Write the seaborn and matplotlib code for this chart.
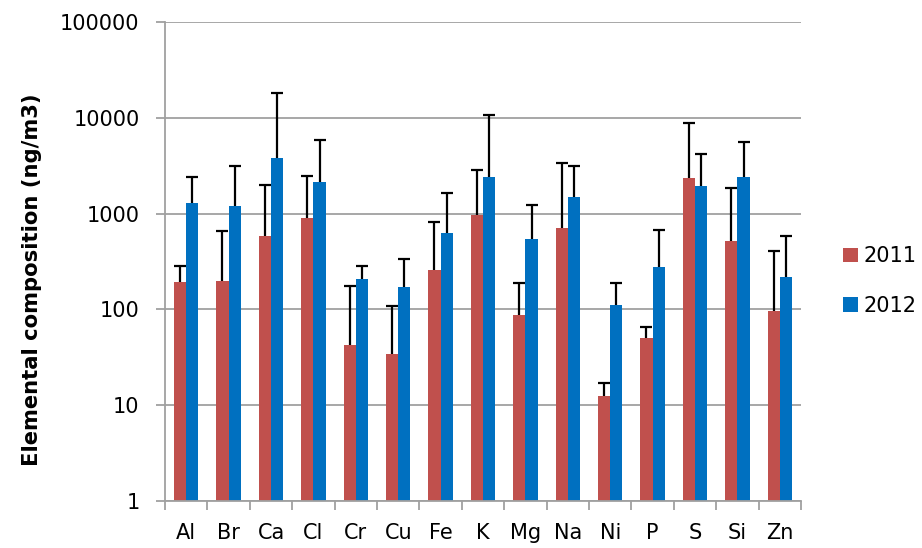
import matplotlib
matplotlib.use("Agg")
import matplotlib.pyplot as plt
import seaborn as sns
import pandas as pd
import numpy as np
from matplotlib.patches import Patch
from matplotlib.ticker import FixedLocator, FixedFormatter, NullLocator

elements = ["Al", "Br", "Ca", "Cl", "Cr", "Cu", "Fe", "K", "Mg", "Na", "Ni", "P", "S", "Si", "Zn"]
mean_2011 = [194, 199, 590, 893, 42, 34, 257, 960, 88, 703, 12.5, 50, 2370, 515, 97]
upper_2011 = [285, 665, 2005, 2450, 176, 108, 818, 2830, 190, 3340, 17, 65.5, 8790, 1870, 408]
mean_2012 = [1290, 1200, 3770, 2120, 207, 171, 630, 2430, 540, 1500, 112, 274, 1960, 2410, 217]
upper_2012 = [2430, 3160, 18000, 5800, 285, 334, 1640, 10650, 1240, 3110, 190, 676, 4150, 5620, 590]
years = ["2011", "2012"]
y_ticks = [1, 10, 100, 1000, 10000, 100000]
y_tick_labels = ["1", "10", "100", "1000", "10000", "100000"]
colors = {"2011": "#C0504D", "2012": "#0070C0"}

df = pd.DataFrame({
    "Element": elements * 2,
    "Year": [years[0]] * len(elements) + [years[1]] * len(elements),
    "Value": mean_2011 + mean_2012,
    "Upper": upper_2011 + upper_2012,
})

sns.set_theme(style="white")
plt.rcParams["font.family"] = ["DejaVu Sans"]
plt.rcParams["text.color"] = "black"
plt.rcParams["axes.labelcolor"] = "black"

fig = plt.figure(figsize=(9.22, 5.48), dpi=100)
ax = fig.add_axes([165 / 922, 1 - 501 / 548, 636 / 922, 479 / 548])

sns.barplot(data=df, x="Element", y="Value", hue="Year", order=elements,
            hue_order=years, palette=colors, width=0.58, errorbar=None,
            saturation=1, ax=ax, legend=False, linewidth=0)
ax.set_yscale("log")
ax.set_ylim(1, 100000)
ax.set_xlim(-0.5, len(elements) - 0.5)

# upper-only error bars at each bar's centre
for yi, yr in enumerate(years):
    sub = df[df["Year"] == yr].set_index("Element").loc[elements]
    cont = ax.containers[yi]
    xs = np.array([p.get_x() + p.get_width() / 2 for p in cont.patches])
    vals = sub["Value"].to_numpy()
    ups = sub["Upper"].to_numpy()
    ax.vlines(xs, vals, ups, colors="black", linewidth=1.6, zorder=3)
    ax.plot(xs, ups, linestyle="none", marker="_", markersize=8,
            markeredgewidth=1.6, color="black", zorder=3)

ax.yaxis.set_major_locator(FixedLocator(y_ticks))
ax.yaxis.set_major_formatter(FixedFormatter(y_tick_labels))
ax.yaxis.set_minor_locator(NullLocator())
ax.grid(axis="y", color="#a0a0a0", linewidth=1.3)
ax.set_axisbelow(True)

for s in ["top", "right"]:
    ax.spines[s].set_visible(False)
for s in ["left", "bottom"]:
    ax.spines[s].set_color("#a0a0a0")
    ax.spines[s].set_linewidth(1.3)

ax.tick_params(axis="y", which="major", direction="out", length=6.3, width=1.3,
               color="#a0a0a0", labelcolor="black", labelsize=15, pad=12, left=True)
ax.set_xticks(range(len(elements)))
ax.set_xticklabels(elements)
ax.tick_params(axis="x", which="major", length=0, labelsize=15, labelcolor="black", pad=16)
ax.set_xticks(np.arange(-0.5, len(elements), 1.0), minor=True)
ax.tick_params(axis="x", which="minor", direction="out", length=6.3, width=1.3,
               color="#a0a0a0", bottom=True)

ax.set_xlabel("")
ax.set_ylabel("Elemental composition (ng/m3)", fontsize=15.2, fontweight="bold", color="black")
ax.yaxis.set_label_coords((42 - 165) / 636, (501 - 280) / 479)

handles = [Patch(facecolor=colors[y], edgecolor="none") for y in years]
fig.legend(handles, years, loc="center left", bbox_to_anchor=(843 / 922, 1 - 281 / 548),
           frameon=False, fontsize=15, handlelength=0.7, handleheight=0.7,
           handletextpad=0.3, labelspacing=1.4, borderpad=0, borderaxespad=0,
           labelcolor="black")

fig.savefig("out.png", dpi=100)
